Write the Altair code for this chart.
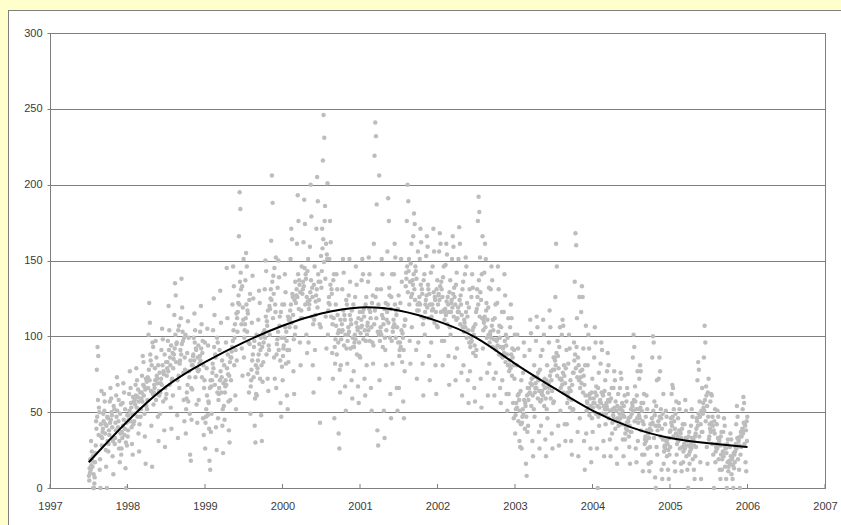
import altair as alt
import pandas as pd

# Daily-style readings per month, July 1997 .. December 2005.
# "a" lists hold the spread of each month, "b" lists the denser core of the same month.
a1997 = [
    [8, 13, 19, 31, 24, 14, 0, 0, 7, 17],
    [23, 44, 78, 93, 87, 53, 12, 0, 34, 64],
    [28, 37, 49, 62, 57, 42, 14, 0, 31, 46],
    [24, 38, 57, 66, 59, 48, 21, 9, 33, 52],
    [29, 43, 61, 73, 68, 44, 26, 17, 36, 55],
    [22, 37, 56, 69, 63, 39, 13, 0, 28, 48],
]
b1997 = [
    [5, 10, 12, 15, 18, 21, 9, 3],
    [28, 39, 47, 58, 35, 50, 19, 42],
    [33, 39, 44, 51, 36, 25, 41, 47],
    [29, 35, 43, 45, 50, 40, 31, 54],
    [33, 38, 47, 51, 40, 58, 31, 49],
    [26, 33, 41, 45, 35, 52, 30, 43],
]
a1998 = [
    [34, 48, 62, 77, 66, 53, 29, 22, 42, 57],
    [44, 58, 68, 79, 71, 60, 36, 24, 52, 63],
    [47, 59, 74, 87, 83, 67, 34, 16, 54, 70],
    [52, 73, 101, 122, 109, 84, 41, 14, 62, 93],
    [55, 68, 79, 97, 86, 72, 47, 31, 61, 76],
    [49, 69, 91, 105, 98, 77, 38, 27, 59, 83],
    [62, 79, 97, 120, 104, 86, 53, 39, 72, 89],
    [61, 85, 114, 135, 127, 95, 48, 33, 74, 107],
    [66, 84, 112, 138, 119, 97, 58, 44, 78, 101],
    [36, 59, 89, 110, 99, 73, 22, 18, 45, 81],
    [65, 87, 99, 115, 104, 92, 55, 43, 77, 94],
    [58, 82, 103, 120, 108, 89, 46, 35, 71, 96],
]
b1998 = [
    [38, 45, 51, 44, 56, 40, 49, 60],
    [49, 55, 61, 53, 47, 65, 57, 42],
    [52, 63, 57, 68, 61, 49, 65, 72],
    [58, 66, 78, 71, 88, 64, 81, 96],
    [63, 66, 71, 58, 74, 69, 81, 64],
    [63, 72, 68, 81, 57, 75, 88, 66],
    [74, 83, 77, 91, 68, 81, 94, 71],
    [79, 88, 92, 101, 83, 96, 71, 104],
    [82, 91, 88, 95, 103, 76, 99, 86],
    [52, 63, 68, 57, 77, 49, 84, 66],
    [81, 88, 84, 96, 73, 91, 79, 86],
    [78, 87, 84, 92, 73, 97, 81, 66],
]
a1999 = [
    [26, 47, 79, 105, 94, 56, 18, 12, 37, 67],
    [49, 76, 104, 125, 114, 88, 40, 25, 63, 96],
    [46, 62, 91, 130, 109, 73, 41, 23, 54, 81],
    [45, 67, 96, 145, 112, 75, 38, 30, 58, 86],
    [71, 90, 121, 146, 133, 99, 61, 52, 84, 112],
    [103, 122, 166, 195, 184, 131, 92, 74, 111, 151],
    [86, 104, 137, 155, 146, 117, 75, 63, 95, 128],
    [49, 71, 109, 140, 125, 93, 41, 30, 62, 101],
    [61, 79, 111, 130, 122, 91, 48, 31, 70, 102],
    [83, 100, 131, 150, 143, 110, 72, 64, 91, 120],
    [101, 125, 163, 206, 188, 140, 86, 72, 116, 152],
    [66, 95, 132, 150, 139, 113, 56, 47, 80, 121],
]
b1999 = [
    [43, 52, 61, 48, 57, 39, 66, 71],
    [71, 82, 79, 93, 68, 86, 74, 99],
    [58, 66, 71, 77, 63, 84, 52, 69],
    [63, 71, 68, 79, 88, 57, 74, 83],
    [86, 93, 97, 104, 81, 108, 91, 115],
    [116, 127, 121, 136, 142, 108, 133, 119],
    [99, 108, 112, 121, 103, 115, 96, 124],
    [67, 78, 84, 88, 73, 97, 59, 81],
    [76, 84, 88, 95, 72, 99, 81, 93],
    [96, 104, 99, 113, 88, 107, 117, 94],
    [118, 131, 124, 136, 112, 128, 145, 121],
    [88, 98, 103, 91, 107, 84, 116, 99],
]
a2000 = [
    [71, 92, 121, 141, 129, 103, 61, 52, 83, 111],
    [91, 112, 151, 171, 164, 126, 77, 62, 101, 136],
    [106, 127, 161, 193, 176, 137, 96, 81, 117, 146],
    [112, 131, 162, 190, 174, 141, 101, 89, 123, 151],
    [96, 121, 159, 200, 179, 132, 81, 63, 111, 146],
    [91, 123, 171, 205, 189, 136, 72, 43, 106, 153],
    [132, 171, 216, 246, 231, 186, 113, 92, 151, 201],
    [101, 122, 151, 176, 162, 131, 89, 72, 112, 141],
    [46, 82, 121, 141, 131, 102, 36, 26, 63, 111],
    [81, 103, 131, 151, 142, 114, 67, 51, 92, 121],
    [82, 101, 127, 151, 136, 111, 71, 59, 93, 121],
    [77, 96, 126, 146, 134, 106, 67, 56, 87, 116],
]
b2000 = [
    [87, 94, 99, 106, 82, 97, 91, 113],
    [106, 117, 121, 109, 128, 114, 98, 124],
    [122, 131, 126, 141, 118, 134, 129, 112],
    [128, 136, 133, 145, 121, 138, 126, 143],
    [118, 124, 129, 137, 113, 126, 108, 134],
    [114, 127, 131, 119, 141, 124, 108, 136],
    [143, 158, 164, 149, 176, 138, 161, 154],
    [117, 126, 121, 134, 113, 128, 108, 137],
    [93, 98, 107, 88, 114, 96, 104, 78],
    [98, 108, 104, 117, 94, 111, 101, 124],
    [97, 106, 103, 114, 92, 108, 117, 99],
    [93, 101, 98, 109, 88, 104, 112, 96],
]
a2001 = [
    [86, 106, 137, 151, 141, 118, 72, 61, 97, 126],
    [81, 107, 136, 152, 141, 116, 66, 51, 96, 127],
    [82, 161, 219, 241, 232, 187, 38, 28, 101, 206],
    [71, 103, 131, 151, 141, 112, 51, 33, 91, 122],
    [81, 111, 156, 191, 176, 127, 62, 46, 97, 141],
    [82, 106, 141, 161, 152, 117, 66, 51, 96, 127],
    [66, 91, 122, 151, 136, 102, 57, 46, 77, 111],
    [111, 142, 176, 200, 189, 151, 97, 82, 126, 161],
    [106, 137, 166, 181, 174, 146, 91, 72, 121, 156],
    [96, 122, 151, 171, 162, 131, 82, 61, 112, 141],
    [101, 121, 153, 166, 159, 131, 87, 71, 112, 142],
    [96, 117, 146, 171, 156, 126, 81, 62, 107, 137],
]
b2001 = [
    [102, 111, 107, 116, 98, 113, 104, 121],
    [101, 109, 104, 118, 97, 112, 106, 122],
    [94, 108, 117, 126, 112, 131, 103, 121],
    [97, 106, 101, 114, 93, 108, 118, 99],
    [104, 116, 121, 109, 132, 99, 118, 126],
    [103, 111, 108, 121, 99, 114, 106, 118],
    [87, 96, 93, 104, 83, 99, 91, 107],
    [133, 138, 146, 129, 143, 121, 136, 148],
    [128, 134, 141, 131, 124, 143, 138, 117],
    [117, 126, 121, 134, 113, 128, 108, 137],
    [116, 124, 127, 119, 134, 112, 128, 121],
    [113, 121, 118, 129, 109, 124, 116, 131],
]
a2002 = [
    [106, 127, 156, 168, 161, 136, 97, 81, 117, 146],
    [97, 116, 147, 161, 154, 126, 87, 68, 106, 137],
    [101, 122, 151, 166, 159, 132, 86, 71, 111, 142],
    [92, 116, 151, 172, 161, 127, 76, 61, 106, 136],
    [81, 111, 141, 152, 146, 122, 71, 56, 96, 131],
    [77, 96, 126, 141, 132, 106, 66, 57, 87, 116],
    [91, 131, 176, 192, 182, 152, 72, 53, 112, 166],
    [92, 111, 142, 161, 151, 122, 76, 61, 101, 132],
    [82, 101, 131, 146, 137, 111, 72, 61, 92, 121],
    [76, 97, 122, 146, 131, 107, 66, 56, 87, 116],
    [71, 92, 116, 141, 127, 101, 62, 51, 81, 112],
    [62, 81, 106, 121, 112, 92, 56, 46, 72, 101],
]
b2002 = [
    [121, 128, 124, 133, 116, 131, 126, 139],
    [111, 118, 114, 123, 108, 121, 116, 129],
    [116, 124, 119, 128, 113, 126, 121, 134],
    [112, 119, 116, 124, 108, 121, 114, 131],
    [103, 109, 106, 116, 99, 113, 104, 119],
    [93, 99, 97, 104, 89, 101, 94, 108],
    [118, 126, 121, 137, 113, 129, 124, 141],
    [104, 109, 113, 106, 117, 99, 111, 119],
    [96, 103, 99, 107, 93, 104, 98, 112],
    [91, 98, 94, 103, 88, 99, 93, 106],
    [86, 93, 89, 97, 83, 94, 88, 99],
    [77, 84, 79, 88, 74, 86, 81, 91],
]
a2003 = [
    [36, 52, 81, 101, 92, 62, 31, 27, 42, 71],
    [26, 47, 76, 96, 87, 56, 16, 8, 37, 66],
    [41, 62, 91, 111, 102, 72, 31, 21, 52, 81],
    [47, 66, 97, 113, 106, 76, 37, 26, 57, 87],
    [41, 62, 91, 111, 101, 72, 32, 21, 52, 81],
    [46, 67, 96, 117, 106, 77, 36, 26, 56, 86],
    [57, 86, 126, 161, 146, 97, 41, 28, 72, 106],
    [51, 72, 101, 111, 107, 81, 42, 31, 62, 91],
    [42, 61, 82, 101, 92, 71, 31, 22, 51, 76],
    [52, 96, 136, 168, 160, 112, 37, 21, 71, 126],
    [46, 77, 116, 133, 126, 92, 31, 12, 61, 107],
    [36, 57, 81, 101, 92, 62, 26, 17, 46, 72],
]
b2003 = [
    [48, 56, 53, 61, 44, 58, 51, 64],
    [43, 52, 49, 58, 39, 54, 47, 61],
    [58, 66, 63, 69, 54, 68, 61, 73],
    [63, 69, 66, 73, 59, 71, 64, 78],
    [58, 64, 61, 68, 54, 66, 59, 71],
    [63, 69, 66, 74, 59, 71, 64, 78],
    [78, 84, 81, 89, 74, 87, 79, 93],
    [66, 71, 68, 76, 63, 74, 69, 79],
    [56, 63, 59, 66, 53, 64, 58, 68],
    [76, 84, 88, 79, 93, 73, 86, 81],
    [66, 73, 69, 78, 63, 74, 68, 81],
    [51, 56, 53, 61, 48, 59, 54, 63],
]
a2004 = [
    [37, 56, 86, 106, 96, 67, 26, 0, 47, 76],
    [41, 57, 82, 96, 91, 62, 31, 21, 52, 71],
    [42, 56, 77, 89, 81, 62, 32, 21, 51, 66],
    [36, 52, 66, 77, 71, 57, 26, 16, 46, 62],
    [41, 52, 66, 76, 72, 56, 32, 21, 47, 61],
    [32, 41, 57, 66, 62, 46, 27, 16, 37, 52],
    [37, 56, 86, 101, 93, 67, 26, 17, 46, 77],
    [31, 52, 72, 81, 77, 56, 22, 11, 42, 62],
    [22, 32, 47, 61, 52, 37, 16, 11, 27, 42],
    [17, 42, 86, 100, 96, 57, 7, 0, 27, 71],
    [22, 41, 72, 86, 77, 52, 12, 6, 32, 62],
    [16, 27, 42, 51, 47, 32, 12, 6, 22, 37],
]
b2004 = [
    [53, 59, 56, 63, 49, 61, 54, 66],
    [53, 58, 56, 63, 49, 61, 54, 64],
    [49, 54, 52, 58, 46, 57, 51, 59],
    [43, 48, 46, 53, 39, 51, 44, 54],
    [44, 49, 46, 53, 42, 51, 48, 54],
    [36, 39, 43, 38, 44, 34, 41, 47],
    [49, 54, 51, 58, 44, 57, 52, 61],
    [43, 48, 46, 53, 38, 51, 44, 56],
    [29, 34, 31, 38, 26, 36, 33, 39],
    [38, 46, 43, 51, 33, 48, 41, 54],
    [38, 44, 41, 47, 34, 46, 39, 49],
    [24, 28, 26, 31, 21, 29, 25, 33],
]
a2005 = [
    [27, 46, 62, 68, 66, 52, 17, 11, 36, 57],
    [22, 32, 46, 56, 52, 37, 16, 11, 27, 42],
    [17, 27, 42, 58, 51, 32, 12, 0, 22, 37],
    [16, 27, 41, 52, 47, 32, 12, 6, 21, 36],
    [27, 46, 71, 83, 78, 57, 17, 6, 37, 66],
    [37, 56, 86, 107, 96, 67, 27, 16, 47, 72],
    [32, 42, 57, 62, 61, 47, 22, 0, 36, 52],
    [17, 27, 42, 51, 47, 32, 12, 6, 22, 37],
    [12, 22, 37, 46, 41, 27, 6, 0, 17, 32],
    [11, 17, 27, 36, 32, 19, 6, 0, 13, 22],
    [17, 27, 42, 54, 47, 32, 12, 0, 22, 37],
    [27, 37, 52, 60, 56, 42, 17, 11, 31, 47],
]
b2005 = [
    [38, 43, 41, 47, 34, 44, 39, 49],
    [29, 34, 31, 38, 26, 36, 33, 39],
    [24, 29, 26, 33, 21, 31, 28, 34],
    [24, 29, 26, 33, 19, 31, 28, 34],
    [39, 44, 41, 49, 34, 47, 42, 51],
    [49, 53, 51, 58, 44, 61, 54, 63],
    [34, 39, 37, 43, 29, 41, 38, 44],
    [24, 29, 26, 33, 19, 31, 28, 34],
    [19, 24, 21, 28, 14, 26, 23, 29],
    [14, 18, 16, 21, 9, 20, 15, 23],
    [24, 29, 26, 33, 19, 31, 28, 34],
    [34, 39, 36, 43, 29, 41, 38, 44],
]

# Trend curve (every half year)
trend_t = [1997.5, 1998.0, 1998.5, 1999.0, 1999.5, 2000.0, 2000.5, 2001.0,
           2001.5, 2002.0, 2002.5, 2003.0, 2003.5, 2004.0, 2004.5, 2005.0,
           2005.5, 2006.0]
trend_v = [17, 44, 67, 83, 96, 107, 115, 119,
           117, 110, 99, 82, 66, 51, 40, 33,
           29.5, 27]

year_ticks = [1997, 1998, 1999, 2000, 2001, 2002, 2003, 2004, 2005, 2006, 2007]
y_ticks = [0, 50, 100, 150, 200, 250, 300]

rows = []
for yr, A, B in [(1997, a1997, b1997), (1998, a1998, b1998), (1999, a1999, b1999),
                 (2000, a2000, b2000), (2001, a2001, b2001), (2002, a2002, b2002),
                 (2003, a2003, b2003), (2004, a2004, b2004), (2005, a2005, b2005)]:
    first = 7 if yr == 1997 else 1
    for k, (va, vb) in enumerate(zip(A, B)):
        m = first + k
        vals = [x for pair in zip(va, vb) for x in pair] + va[len(vb):]
        n = len(vals)
        for j, v in enumerate(vals):
            rows.append({"t": yr + (m - 1) / 12 + (j + 0.5) / (n * 12), "v": v})
df = pd.DataFrame(rows)
trend = pd.DataFrame({"t": trend_t, "v": trend_v})
ticks_df = pd.DataFrame({"t": year_ticks})

GRAY = "#7f7f7f"
FONT = "Liberation Sans"

xscale = alt.Scale(domain=[1997, 2007], nice=False, zero=False)
yscale = alt.Scale(domain=[0, 300], nice=False)

points = alt.Chart(df).mark_circle(size=20, color="#bdbdbd", opacity=1).encode(
    x=alt.X("t:Q", scale=xscale,
            axis=alt.Axis(values=year_ticks, format="d", title=None, grid=False,
                          ticks=False, tickSize=0, labelPadding=12, labelFont=FONT,
                          labelFontSize=11, labelColor="#3a3a3a", domainColor=GRAY,
                          labelFlush=False)),
    y=alt.Y("v:Q", scale=yscale,
            axis=alt.Axis(values=y_ticks, title=None, grid=True, gridColor=GRAY,
                          gridWidth=1, gridOpacity=1, tickSize=3, tickColor=GRAY,
                          labelPadding=5, labelFont=FONT, labelFontSize=11,
                          labelColor="#3a3a3a", domainColor=GRAY)),
)

line = alt.Chart(trend).mark_line(color="black", strokeWidth=2, interpolate="natural").encode(
    x=alt.X("t:Q", scale=xscale), y=alt.Y("v:Q", scale=yscale)
)

yr_ticks = alt.Chart(ticks_df).mark_rule(color=GRAY).encode(
    x=alt.X("t:Q", scale=xscale), y=alt.value(455), y2=alt.value(451)
)

one = pd.DataFrame({"a": [0]})
frame_top = alt.Chart(one).mark_rule(color=GRAY, strokeWidth=1).encode(
    x=alt.value(-42), x2=alt.value(800), y=alt.value(-22.5)
)
frame_left = alt.Chart(one).mark_rule(color=GRAY, strokeWidth=1).encode(
    x=alt.value(-41.5), y=alt.value(-23), y2=alt.value(500)
)

chart = alt.layer(points, line, yr_ticks, frame_top, frame_left).properties(
    width=775, height=455,
    padding={"left": 42, "top": 23, "right": 16, "bottom": 37},
    autosize=alt.AutoSizeParams(type="none"),
    background="white",
).configure_view(stroke=GRAY, strokeWidth=1)

chart.save("out.html", embed_options={
    "renderer": "svg", "actions": False,
    "defaultStyle": "html,body{overflow:hidden;background:#FFFFCC;} body{margin:10px 0 0 8px;}",
})
